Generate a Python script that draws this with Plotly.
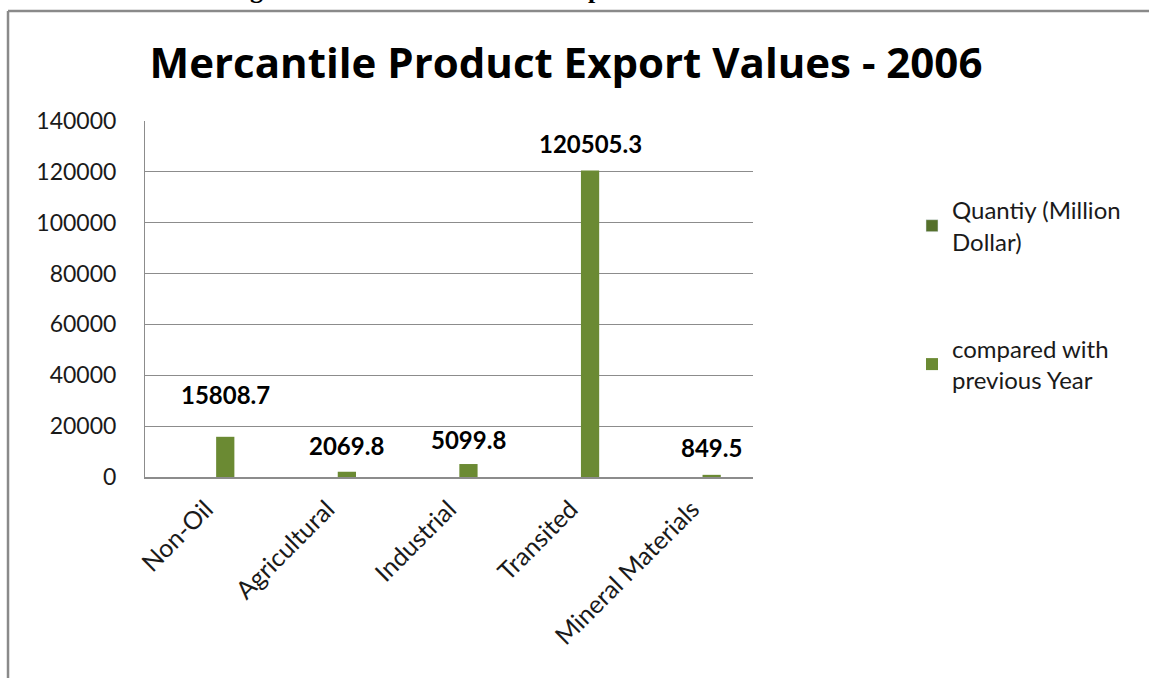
import plotly.graph_objects as go

# Data.
CATEGORIES = ["Non-Oil", "Agricultural", "Industrial", "Transited", "Mineral Materials"]
QUANTITY = [None, None, None, None, None]
COMPARED = [15808.7, 2069.8, 5099.8, 120505.3, 849.5]
Y_TICKS = [0, 20000, 40000, 60000, 80000, 100000, 120000, 140000]

# Pixel lift of each data label above its bar (Excel labels were hand-moved).
LABEL_LIFT = [42, 26, 25, 27, 27]

FONT = "Lato, 'Open Sans', sans-serif"
COLOR_QUANTITY = "#55702B"
COLOR_COMPARED = "#6B8A33"
GRID = "#8C8C8C"

BAR_W = 0.15
BAR_OFF = 0.085

fig = go.Figure()
fig.add_trace(go.Bar(x=CATEGORIES, y=QUANTITY, name="Quantiy (Million<br>Dollar)",
                     marker=dict(color=COLOR_QUANTITY), width=BAR_W,
                     offset=BAR_OFF - BAR_W, legendgroup="q"))
fig.add_trace(go.Bar(x=CATEGORIES, y=COMPARED, name="compared with<br>previous Year",
                     marker=dict(color=COLOR_COMPARED, line=dict(width=0)),
                     width=BAR_W, offset=BAR_OFF, legendgroup="c"))

# Data labels centred over each bar.
for cat, val, lift in zip(CATEGORIES, COMPARED, LABEL_LIFT):
    fig.add_annotation(x=cat, y=val, text=f"{val:.1f}", showarrow=False,
                       xshift=(BAR_OFF + BAR_W / 2) * 121.6, yshift=lift,
                       yanchor="middle",
                       font=dict(family=FONT, size=24, color="#000000", weight="bold"))

# Caption of the page, clipped by the top edge as in the scan.
fig.add_annotation(xref="paper", yref="paper", x=(500 - 145) / 608, y=(477 - 6) / 356,
                   yanchor="bottom",
                   text="<b>Figure 3: Mercantile Product Export Values 2006</b>",
                   showarrow=False,
                   font=dict(family="'Liberation Serif', serif", size=26, color="#000"))

# Chart frame (top and left edges visible).
fig.add_shape(type="line", xref="paper", yref="paper", x0=-0.2253, x1=1.7,
              y0=1.309, y1=1.309, line=dict(color="#8A8A8A", width=2.5))
fig.add_shape(type="line", xref="paper", yref="paper", x0=-0.2253, x1=-0.2253,
              y0=1.309, y1=-0.7, line=dict(color="#8A8A8A", width=2.5))

fig.update_layout(
    width=1149, height=678,
    paper_bgcolor="white", plot_bgcolor="white",
    margin=dict(l=145, r=396, t=121, b=201),
    barmode="group",
    font=dict(family=FONT, color="#000000"),
    title=dict(text="<b>Mercantile Product Export Values - 2006</b>",
               x=566 / 1149, xanchor="center", y=1 - 63 / 678, yanchor="middle",
               font=dict(family="'Open Sans', sans-serif", size=42, color="#000000")),
    legend=dict(x=1.2615, xanchor="left", y=(477 - 188) / 356, yanchor="top",
                font=dict(family=FONT, size=24, color="#1A1A1A"),
                tracegroupgap=73, itemclick=False, bgcolor="rgba(0,0,0,0)"),
    showlegend=True,
)
fig.update_yaxes(range=[0, 140000], tickvals=Y_TICKS, tickformat="d",
                 showgrid=True, gridcolor=GRID, gridwidth=1,
                 showline=True, linecolor=GRID, linewidth=1,
                 zeroline=False, ticks="", ticklabelstandoff=23,
                 tickfont=dict(family=FONT, size=23, color="#1A1A1A"))
fig.update_xaxes(showline=True, linecolor=GRID, linewidth=1.5, ticks="",
                 tickangle=-45, ticklabelstandoff=6,
                 tickfont=dict(family=FONT, size=25, color="#1A1A1A"))

fig.write_html("out.html", config={"displayModeBar": False},
               post_script="document.body.style.margin='0';")
